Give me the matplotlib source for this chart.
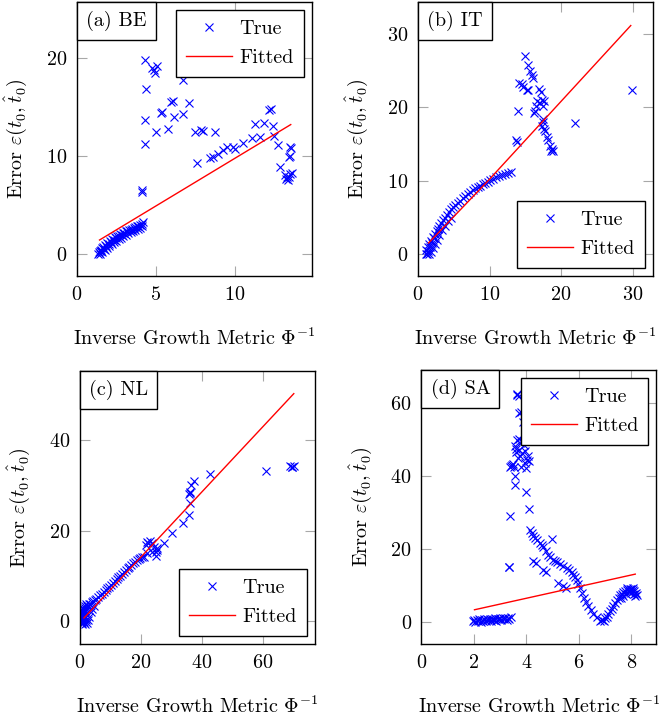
import matplotlib
matplotlib.use("Agg")
import matplotlib.pyplot as plt
from matplotlib.offsetbox import AnchoredText

plt.rcParams.update({
    "font.family": "serif",
    "font.serif": ["cmr10"],
    "mathtext.fontset": "cm",
    "axes.formatter.use_mathtext": True,
    "font.size": 14.5,
})

# ---------------- data: (a) BE ----------------
be_x = [1.35, 1.40, 1.45, 1.50, 1.55, 1.60, 1.65, 1.70, 1.78, 1.85, 1.92, 2.00, 2.08, 2.16, 2.24, 2.32, 2.40, 2.48,
        2.56, 2.65, 2.74, 2.83, 2.92, 3.01, 3.10, 3.20, 3.30, 3.40, 3.50, 3.60, 3.70, 3.80, 3.90, 4.00, 4.10, 4.20,
        1.45, 1.60, 1.75, 1.90, 2.05, 2.20, 2.35, 2.50, 2.65, 2.80, 2.95, 3.10, 3.25, 3.40, 3.55, 3.70, 3.85,
        4.00, 4.15,
        4.12, 4.14, 4.33, 4.39, 4.29, 4.33, 4.76, 4.97, 5.11, 4.86, 5.03, 5.77, 5.35, 5.41, 6.19, 6.70, 5.98, 6.07,
        7.14, 6.72,
        7.50, 7.86, 8.03, 8.77, 7.61, 8.45, 8.66, 8.98, 9.26, 9.55, 9.93, 10.04, 10.57, 11.10, 11.30, 11.62, 11.88,
        12.21, 12.30, 12.47, 12.53, 12.75, 12.89,
        13.57, 13.53, 13.48, 13.20, 13.30, 13.40, 13.45, 13.55, 13.63, 13.35, 13.50]
be_y = [0.05, 0.20, 0.35, 0.45, 0.30, 0.60, 0.75, 0.55, 0.95, 0.85, 1.15, 1.05, 1.35, 1.25, 1.55, 1.45, 1.70, 1.60,
        1.85, 1.80, 2.00, 1.95, 2.15, 2.10, 2.30, 2.35, 2.45, 2.50, 2.60, 2.70, 2.75, 2.85, 2.90, 3.00, 3.10, 3.25,
        0.00, 0.20, 0.40, 0.60, 0.80, 1.00, 1.20, 1.35, 1.50, 1.65, 1.80, 1.95, 2.10, 2.25, 2.35, 2.50, 2.60,
        2.70, 2.85,
        6.36, 6.50, 19.8, 16.8, 13.67, 11.2, 18.95, 18.44, 19.18, 18.78, 12.48, 12.76, 14.4, 14.5, 14.0, 14.25, 15.5,
        15.6, 15.4, 17.76,
        12.48, 12.65, 12.58, 12.48, 9.25, 9.76, 9.93, 10.2, 10.6, 10.89, 10.89, 10.74, 11.36, 11.8, 13.27, 11.9, 13.4,
        14.69, 14.76, 13.06, 12.04, 11.12, 8.9,
        10.78, 10.0, 9.86, 8.1, 7.7, 7.5, 7.9, 8.2, 8.3, 7.85, 10.9]
be_fit_x = [1.43, 13.57]
be_fit_y = [1.43, 13.2]

# ---------------- data: (b) IT ----------------
it_x = [1.05, 1.15, 1.25, 1.35, 1.45, 1.55, 1.65, 1.75, 1.90, 2.05, 2.20, 2.40, 2.60, 2.80, 3.00, 3.25, 3.50, 3.75,
        4.00, 4.30, 4.60, 4.90, 5.20, 5.55, 5.90, 6.25, 6.60, 6.95, 7.30, 7.65, 8.00, 8.35, 8.70, 9.05, 9.40, 9.75,
        10.10, 10.50, 10.90, 11.30, 11.70, 12.10, 12.55, 13.00,
        1.5, 1.8, 2.1, 2.4, 2.7, 3.0, 3.4, 3.8, 4.2, 4.6,
        14.97, 15.43, 15.66, 15.9, 16.12, 14.17, 14.5, 14.73, 15.43, 16.96, 17.15, 16.6, 17.3, 17.06, 16.5, 16.36,
        16.22, 17.43, 17.52, 17.3, 17.62, 17.76, 18.0, 18.2, 18.45, 18.69, 18.55, 18.83, 14.03, 13.7, 13.9, 21.94,
        29.93, 17.62, 17.43, 15.2]
it_y = [0.1, 0.6, 0.1, 1.0, 0.5, 1.4, 1.0, 1.8, 1.6, 2.3, 2.2, 2.8, 3.1, 3.5, 3.9, 4.3, 4.6, 4.9,
        5.3, 5.7, 6.1, 6.4, 6.7, 7.0, 7.3, 7.6, 7.9, 8.2, 8.45, 8.7, 8.95, 9.15, 9.35, 9.5, 9.7, 9.85,
        10.05, 10.25, 10.45, 10.6, 10.8, 10.95, 11.05, 11.2,
        0.0, 0.3, 0.8, 1.4, 2.0, 2.6, 3.3, 3.9, 4.5, 5.0,
        26.9, 25.8, 24.9, 24.4, 23.9, 23.3, 23.1, 22.7, 22.3, 22.5, 22.05, 20.9, 21.0, 20.6, 20.2, 19.5,
        19.2, 18.4, 18.0, 17.5, 17.1, 16.75, 15.9, 15.5, 14.7, 14.36, 14.0, 14.1, 19.5, 15.5, 15.26, 17.84,
        22.4, 20.9, 20.1, 22.4]
it_fit_x = [1.48, 9.85, 29.75]
it_fit_y = [1.54, 10.05, 31.1]

# ---------------- data: (c) NL ----------------
nl_x = [0.4, 0.5, 0.6, 0.7, 0.8, 0.9, 1.0, 1.2, 1.4, 1.6, 1.8, 2.0, 2.3, 2.6, 3.0, 3.4, 3.8, 4.3, 4.8, 5.4,
        6.0, 6.6, 7.2, 7.8, 8.4, 9.0, 9.6, 10.2, 10.8, 11.4, 12.0, 12.6, 13.2, 13.8, 14.4, 15.0, 15.6, 16.2,
        16.8, 17.4, 18.0, 18.6, 19.2, 19.8, 20.4,
        0.5, 0.6, 0.8, 1.0, 1.5, 2.0, 0.6, 0.8, 1.2, 1.5, 2.4, 2.0, 1.8, 2.5, 3.0, 3.5, 4.0, 4.5,
        21.8, 22.9, 22.4, 23.5, 21.6, 24.2, 25.1, 24.9, 25.3, 24.9, 23.5, 22.0, 20.9, 27.5, 30.3, 33.6, 35.8,
        36.0, 35.8, 36.0, 36.3, 37.3, 36.2, 42.55, 61.1, 68.97, 69.6, 70.0, 69.3]
nl_y = [0.0, 0.6, 1.2, 0.3, 1.8, 0.9, 2.2, 1.5, 2.6, 2.2, 3.0, 2.8, 3.4, 3.3, 3.9, 3.8, 4.3, 4.4, 4.8, 5.0,
        5.4, 5.8, 6.1, 6.5, 6.9, 7.3, 7.7, 8.1, 8.5, 8.9, 9.3, 9.7, 10.1, 10.5, 10.9, 11.3, 11.7, 12.1,
        12.5, 12.9, 13.2, 13.5, 13.8, 14.0, 14.2,
        0.5, 1.5, 2.4, 3.0, 3.5, 3.9, -0.5, -0.4, -0.2, 0.8, -0.3, 0.3, -0.5, 0.2, 1.0, 2.0, 2.8, 3.5,
        17.6, 17.8, 17.3, 17.4, 16.9, 16.5, 16.2, 15.4, 15.8, 14.5, 15.4, 15.1, 14.3, 17.4, 19.5, 21.7, 23.4,
        26.2, 28.06, 28.6, 30.1, 31.06, 28.4, 32.5, 33.2, 34.3, 34.1, 34.4, 34.0]
nl_fit_x = [1.31, 70.05]
nl_fit_y = [0.75, 50.3]

# ---------------- data: (d) SA ----------------
sa_x = [1.95, 2.00, 2.05, 2.10, 2.15, 2.20, 2.25, 2.30, 2.35, 2.40, 2.45, 2.50, 2.55, 2.60, 2.65, 2.70, 2.75,
        2.80, 2.85, 2.90, 2.95, 3.00, 3.05, 3.10, 3.15, 3.20, 3.25, 3.30, 3.35, 3.40,
        3.32, 3.34, 3.36, 3.49, 3.41, 3.54, 3.45, 3.39, 3.57, 3.57, 3.64, 3.70, 3.66, 3.79, 3.87, 3.73, 3.64,
        3.77, 3.57, 3.90, 3.70, 3.83, 4.02, 4.08, 3.93, 3.81, 3.60, 3.75, 3.68, 3.95, 3.85, 3.72, 3.62, 4.05,
        3.98, 3.98, 4.08,
        4.14, 4.21, 4.27, 4.33, 4.42, 4.50, 4.59, 4.65, 4.75, 4.84, 4.90, 5.01, 5.10, 5.18, 5.29, 5.41, 5.54,
        5.64, 5.73, 5.79, 5.86, 5.92, 5.98, 6.05, 6.11, 6.20, 6.27, 6.36, 6.45, 6.55, 6.68, 6.81,
        4.97, 4.27, 4.37, 4.63, 4.75, 5.22, 5.39, 5.51,
        6.90, 6.95, 7.00, 7.06, 7.12, 7.18, 7.25, 7.31, 7.38, 7.45, 7.52, 7.57, 7.63, 7.70, 7.76, 7.82, 7.88,
        7.94, 8.00, 8.07, 8.12, 8.17, 8.20, 7.60, 7.70, 7.80, 7.90, 8.00, 8.10, 8.15, 7.95, 8.05, 7.85]
sa_y = [0.2, 0.6, 0.0, 0.5, 0.3, 0.7, 0.1, 0.6, 0.4, 0.8, 0.2, 0.7, 0.5, 0.9, 0.3, 0.8, 0.6,
        1.0, 0.4, 0.9, 0.7, 1.1, 0.5, 1.0, 0.8, 1.2, 0.6, 1.1, 0.9, 1.3,
        15.0, 15.1, 29.0, 43.2, 42.7, 42.3, 43.0, 42.5, 39.8, 37.5, 62.4, 61.8, 62.1, 57.5, 54.8, 57.2, 49.8,
        48.9, 48.0, 48.5, 47.1, 46.2, 44.3, 43.9, 43.4, 42.3, 46.5, 45.5, 44.8, 46.8, 49.5, 50.0, 47.3, 45.5,
        42.0, 35.5, 30.9,
        25.2, 24.3, 23.6, 22.9, 22.5, 21.7, 21.1, 20.5, 19.3, 18.4, 17.8, 17.0, 16.6, 16.3, 15.9, 15.4, 14.8,
        14.3, 13.8, 12.9, 12.3, 11.6, 10.5, 9.3, 7.9, 6.6, 5.4, 4.3, 3.2, 2.3, 1.4, 0.2,
        22.8, 16.6, 16.1, 14.3, 13.6, 10.7, 9.9, 9.3,
        0.5, 0.2, 1.0, 1.5, 2.2, 2.9, 3.6, 4.3, 5.1, 5.9, 6.6, 7.3, 7.8, 8.3, 8.6, 8.8, 9.0,
        9.0, 8.9, 8.8, 8.4, 8.0, 7.5, 6.5, 7.2, 7.8, 8.2, 7.9, 7.6, 7.0, 8.5, 9.2, 9.3]
sa_fit_x = [2.02, 8.15]
sa_fit_y = [3.36, 13.1]

panel_titles = ["(a) BE", "(b) IT", "(c) NL", "(d) SA"]
xlabel = r"Inverse Growth Metric $\Phi^{-1}$"
ylabel = r"Error $\varepsilon(t_0,\hat{t}_0)$"

W, H = 659, 717
fig = plt.figure(figsize=(W / 100, H / 100), dpi=100)


def axes_px(left, top, right, bottom):
    return fig.add_axes([left / W, (H - bottom) / H, (right - left) / W, (bottom - top) / H])


panels = [
    dict(rect=(77, 2, 312, 276), x=be_x, y=be_y, fx=be_fit_x, fy=be_fit_y,
         xlim=(0, 14.92), ylim=(-2.24, 25.7), xt=[0, 5, 10], yt=[0, 10, 20], leg="upper right"),
    dict(rect=(418, 2, 653, 276), x=it_x, y=it_y, fx=it_fit_x, fy=it_fit_y,
         xlim=(0, 32.86), ylim=(-2.95, 34.3), xt=[0, 10, 20, 30], yt=[0, 10, 20, 30], leg="lower right"),
    dict(rect=(80, 371, 315, 644), x=nl_x, y=nl_y, fx=nl_fit_x, fy=nl_fit_y,
         xlim=(0, 77.0), ylim=(-5.0, 55.3), xt=[0, 20, 40, 60], yt=[0, 20, 40], leg="lower right"),
    dict(rect=(421.5, 370, 656.5, 644), x=sa_x, y=sa_y, fx=sa_fit_x, fy=sa_fit_y,
         xlim=(0, 8.96), ylim=(-6.0, 68.9), xt=[0, 2, 4, 6, 8], yt=[0, 20, 40, 60], leg="upper right"),
]

for p, title in zip(panels, panel_titles):
    ax = axes_px(*p["rect"])
    ax.plot(p["x"], p["y"], linestyle="none", marker="x", color="blue", markersize=5.5,
            markeredgewidth=0.8, label="True")
    ax.plot(p["fx"], p["fy"], color="red", linewidth=1.0, label="Fitted")
    ax.set_xlim(*p["xlim"])
    ax.set_ylim(*p["ylim"])
    ax.set_xticks(p["xt"])
    ax.set_yticks(p["yt"])
    ax.tick_params(direction="in", top=True, right=True, length=7, width=0.8,
                   color="#a8a8a8", pad=7, labelsize=14.5)
    for s in ax.spines.values():
        s.set_linewidth(1.0)
        s.set_color("black")
    ax.set_xlabel(xlabel, fontsize=14.5, labelpad=17)
    ax.set_ylabel(ylabel, fontsize=14.5, labelpad=12)
    at = AnchoredText(title, loc="upper left", pad=0.45, borderpad=0, frameon=True,
                      prop=dict(size=14.5))
    at.patch.set_boxstyle("square,pad=0")
    at.patch.set_edgecolor("black")
    at.patch.set_linewidth(1.0)
    at.zorder = 5
    ax.add_artist(at)
    leg = ax.legend(loc=p["leg"], fontsize=14.5, numpoints=1, fancybox=False, framealpha=1,
                    edgecolor="black", handlelength=2.3, borderaxespad=0.4, borderpad=0.5,
                    labelspacing=0.55, handletextpad=0.35)
    leg.get_frame().set_linewidth(1.0)
    leg.set_zorder(6)

fig.savefig("out.png", dpi=100)
